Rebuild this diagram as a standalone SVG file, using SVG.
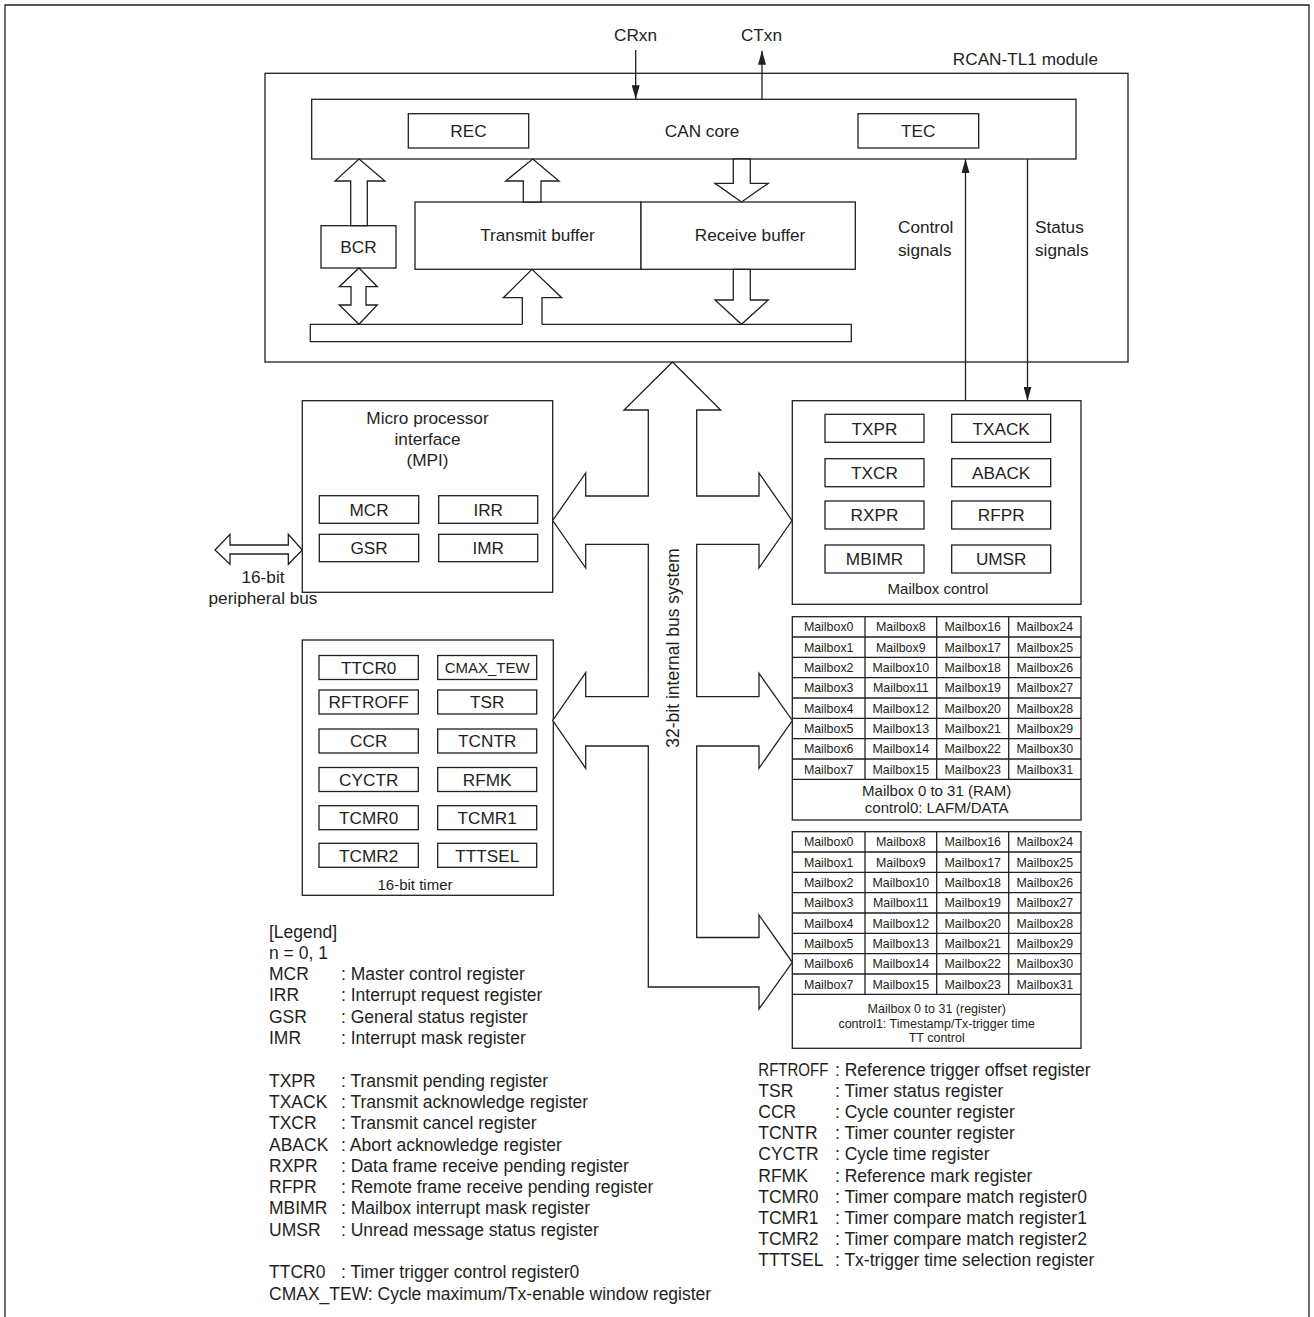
<svg xmlns="http://www.w3.org/2000/svg" width="1314" height="1317" viewBox="0 0 1314 1317">
<style>
.b{fill:#fff;stroke:#231f20;stroke-width:1.3}
.l{fill:none;stroke:#231f20;stroke-width:1.3}
.t{font-family:"Liberation Sans",Arial,sans-serif;font-size:17.2px;fill:#231f20}
.m{text-anchor:middle}
.s{font-size:15px}
.c{font-size:12.4px}
.f{font-size:12.5px}
.g{font-size:17.5px}
</style>
<defs>
<marker id="ah" markerUnits="userSpaceOnUse" markerWidth="14" markerHeight="8" viewBox="0 0 14 8" refX="14" refY="4" orient="auto">
<path d="M0,0 L14,4 L0,8 Z" fill="#231f20"/>
</marker>
</defs>
<rect width="1314" height="1317" fill="#fff"/>
<path class="l" d="M5,1317 V5 H1309 V1317"/>

<g id="module">
<rect class="b" x="265" y="73.3" width="863" height="288.7"/>
<text class="t" x="1098" y="65" text-anchor="end">RCAN-TL1 module</text>
</g>

<g id="can-core">
<rect class="b" x="311.7" y="99.3" width="764.3" height="59.7"/>
<text class="t m" x="702" y="137">CAN core</text>
<rect class="b" x="408.3" y="113.7" width="120.4" height="34.3"/>
<text class="t m" x="468.5" y="137">REC</text>
<rect class="b" x="858" y="113.7" width="120.7" height="34.3"/>
<text class="t m" x="918.3" y="137">TEC</text>
</g>

<g id="bcr">
<rect class="b" x="321" y="225.7" width="75" height="42.3"/>
<text class="t m" x="358.5" y="253">BCR</text>
</g>

<g id="transmit-buffer">
<rect class="b" x="415" y="202" width="226" height="67.3"/>
<text class="t m" x="537.5" y="241">Transmit buffer</text>
</g>

<g id="receive-buffer">
<rect class="b" x="641" y="202" width="214.3" height="67.3"/>
<text class="t m" x="750" y="241">Receive buffer</text>
</g>

<g id="internal-bus">
<path class="b" d="M522.3,324.3 H310.3 V341.7 H851.3 V324.3 H542"/>
</g>

<g id="mpi">
<rect class="b" x="302.3" y="400.7" width="250.4" height="191.6"/>
<text class="t m" x="427.5" y="423.5">Micro processor</text>
<text class="t m" x="427.5" y="444.5">interface</text>
<text class="t m" x="427.5" y="465.5">(MPI)</text>
<rect class="b" x="319.3" y="495.7" width="99.4" height="27.6"/>
<text class="t m" x="369" y="515.7">MCR</text>
<rect class="b" x="438.7" y="495.7" width="99" height="27.6"/>
<text class="t m" x="488.2" y="515.7">IRR</text>
<rect class="b" x="319.3" y="534.3" width="99.4" height="27.4"/>
<text class="t m" x="369" y="554.2">GSR</text>
<rect class="b" x="438.7" y="534.3" width="99" height="27.4"/>
<text class="t m" x="488.2" y="554.2">IMR</text>
</g>

<g id="peripheral-bus">
<polygon class="b" points="215,550 230,534.3 230,545 288.3,545 288.3,534.3 302.3,550 288.3,564.3 288.3,554 230,554 230,564.3"/>
<text class="t m" x="263" y="582.5">16-bit</text>
<text class="t m" x="263" y="604">peripheral bus</text>
</g>

<g id="mailbox-control">
<rect class="b" x="792.3" y="400.7" width="288.7" height="203.6"/>
<rect class="b" x="825" y="414.3" width="99" height="28"/>
<text class="t m" x="874.5" y="434.5">TXPR</text>
<rect class="b" x="951.7" y="414.3" width="99" height="28"/>
<text class="t m" x="1001.2" y="434.5">TXACK</text>
<rect class="b" x="825" y="458.7" width="99" height="28"/>
<text class="t m" x="874.5" y="478.9">TXCR</text>
<rect class="b" x="951.7" y="458.7" width="99" height="28"/>
<text class="t m" x="1001.2" y="478.9">ABACK</text>
<rect class="b" x="825" y="501" width="99" height="28"/>
<text class="t m" x="874.5" y="521.2">RXPR</text>
<rect class="b" x="951.7" y="501" width="99" height="28"/>
<text class="t m" x="1001.2" y="521.2">RFPR</text>
<rect class="b" x="825" y="545" width="99" height="28"/>
<text class="t m" x="874.5" y="565.2">MBIMR</text>
<rect class="b" x="951.7" y="545" width="99" height="28"/>
<text class="t m" x="1001.2" y="565.2">UMSR</text>
<text class="t m s" x="938" y="594">Mailbox control</text>
</g>

<g id="mailbox-ram">
<rect class="b" x="792.3" y="616.7" width="288.7" height="203.3"/>
<path class="l" d="M792.3,637 H1081 M792.3,657.4 H1081 M792.3,677.7 H1081 M792.3,698 H1081 M792.3,718.4 H1081 M792.3,738.7 H1081 M792.3,759 H1081 M792.3,779.3 H1081 M865,616.7 V779.3 M936.7,616.7 V779.3 M1008.7,616.7 V779.3"/>
<g class="t m c">
<text x="828.7" y="631.2">Mailbox0</text><text x="900.8" y="631.2">Mailbox8</text><text x="972.7" y="631.2">Mailbox16</text><text x="1044.8" y="631.2">Mailbox24</text>
<text x="828.7" y="651.5">Mailbox1</text><text x="900.8" y="651.5">Mailbox9</text><text x="972.7" y="651.5">Mailbox17</text><text x="1044.8" y="651.5">Mailbox25</text>
<text x="828.7" y="671.9">Mailbox2</text><text x="900.8" y="671.9">Mailbox10</text><text x="972.7" y="671.9">Mailbox18</text><text x="1044.8" y="671.9">Mailbox26</text>
<text x="828.7" y="692.2">Mailbox3</text><text x="900.8" y="692.2">Mailbox11</text><text x="972.7" y="692.2">Mailbox19</text><text x="1044.8" y="692.2">Mailbox27</text>
<text x="828.7" y="712.5">Mailbox4</text><text x="900.8" y="712.5">Mailbox12</text><text x="972.7" y="712.5">Mailbox20</text><text x="1044.8" y="712.5">Mailbox28</text>
<text x="828.7" y="732.9">Mailbox5</text><text x="900.8" y="732.9">Mailbox13</text><text x="972.7" y="732.9">Mailbox21</text><text x="1044.8" y="732.9">Mailbox29</text>
<text x="828.7" y="753.2">Mailbox6</text><text x="900.8" y="753.2">Mailbox14</text><text x="972.7" y="753.2">Mailbox22</text><text x="1044.8" y="753.2">Mailbox30</text>
<text x="828.7" y="773.5">Mailbox7</text><text x="900.8" y="773.5">Mailbox15</text><text x="972.7" y="773.5">Mailbox23</text><text x="1044.8" y="773.5">Mailbox31</text>
</g>
<text class="t m s" x="936.7" y="795.5">Mailbox 0 to 31 (RAM)</text>
<text class="t m s" x="936.7" y="813">control0: LAFM/DATA</text>
</g>

<g id="mailbox-register">
<rect class="b" x="792.3" y="831.7" width="288.7" height="216.6"/>
<path class="l" d="M792.3,852 H1081 M792.3,872.4 H1081 M792.3,892.7 H1081 M792.3,913 H1081 M792.3,933.4 H1081 M792.3,953.7 H1081 M792.3,974 H1081 M792.3,994.3 H1081 M865,831.7 V994.3 M936.7,831.7 V994.3 M1008.7,831.7 V994.3"/>
<g class="t m c">
<text x="828.7" y="846.2">Mailbox0</text><text x="900.8" y="846.2">Mailbox8</text><text x="972.7" y="846.2">Mailbox16</text><text x="1044.8" y="846.2">Mailbox24</text>
<text x="828.7" y="866.5">Mailbox1</text><text x="900.8" y="866.5">Mailbox9</text><text x="972.7" y="866.5">Mailbox17</text><text x="1044.8" y="866.5">Mailbox25</text>
<text x="828.7" y="886.9">Mailbox2</text><text x="900.8" y="886.9">Mailbox10</text><text x="972.7" y="886.9">Mailbox18</text><text x="1044.8" y="886.9">Mailbox26</text>
<text x="828.7" y="907.2">Mailbox3</text><text x="900.8" y="907.2">Mailbox11</text><text x="972.7" y="907.2">Mailbox19</text><text x="1044.8" y="907.2">Mailbox27</text>
<text x="828.7" y="927.5">Mailbox4</text><text x="900.8" y="927.5">Mailbox12</text><text x="972.7" y="927.5">Mailbox20</text><text x="1044.8" y="927.5">Mailbox28</text>
<text x="828.7" y="947.9">Mailbox5</text><text x="900.8" y="947.9">Mailbox13</text><text x="972.7" y="947.9">Mailbox21</text><text x="1044.8" y="947.9">Mailbox29</text>
<text x="828.7" y="968.2">Mailbox6</text><text x="900.8" y="968.2">Mailbox14</text><text x="972.7" y="968.2">Mailbox22</text><text x="1044.8" y="968.2">Mailbox30</text>
<text x="828.7" y="988.5">Mailbox7</text><text x="900.8" y="988.5">Mailbox15</text><text x="972.7" y="988.5">Mailbox23</text><text x="1044.8" y="988.5">Mailbox31</text>
</g>
<text class="t m f" x="936.7" y="1013">Mailbox 0 to 31 (register)</text>
<text class="t m f" x="936.7" y="1027.5">control1: Timestamp/Tx-trigger time</text>
<text class="t m f" x="936.7" y="1042">TT control</text>
</g>

<g id="timer">
<rect class="b" x="302.3" y="640" width="251" height="255.3"/>
<rect class="b" x="319" y="655.5" width="99.3" height="24"/>
<text class="t m" x="368.7" y="673.7">TTCR0</text>
<rect class="b" x="437.7" y="655.5" width="99" height="24"/>
<text class="t m s" x="487.2" y="673">CMAX_TEW</text>
<rect class="b" x="319" y="690" width="99.3" height="24"/>
<text class="t m" x="368.7" y="708.2">RFTROFF</text>
<rect class="b" x="437.7" y="690" width="99" height="24"/>
<text class="t m" x="487.2" y="708.2">TSR</text>
<rect class="b" x="319" y="729" width="99.3" height="24"/>
<text class="t m" x="368.7" y="747.2">CCR</text>
<rect class="b" x="437.7" y="729" width="99" height="24"/>
<text class="t m" x="487.2" y="747.2">TCNTR</text>
<rect class="b" x="319" y="767.5" width="99.3" height="24"/>
<text class="t m" x="368.7" y="785.7">CYCTR</text>
<rect class="b" x="437.7" y="767.5" width="99" height="24"/>
<text class="t m" x="487.2" y="785.7">RFMK</text>
<rect class="b" x="319" y="805.7" width="99.3" height="24"/>
<text class="t m" x="368.7" y="824">TCMR0</text>
<rect class="b" x="437.7" y="805.7" width="99" height="24"/>
<text class="t m" x="487.2" y="824">TCMR1</text>
<rect class="b" x="319" y="843.3" width="99.3" height="24"/>
<text class="t m" x="368.7" y="861.5">TCMR2</text>
<rect class="b" x="437.7" y="843.3" width="99" height="24"/>
<text class="t m" x="487.2" y="861.5">TTTSEL</text>
<text class="t m s" x="415" y="890">16-bit timer</text>
</g>

<g id="connectors">
<line class="l" x1="635.7" y1="50" x2="635.7" y2="99.3" marker-end="url(#ah)"/>
<line class="l" x1="762" y1="99.3" x2="762" y2="50.7" marker-end="url(#ah)"/>
<line class="l" x1="965.5" y1="400.7" x2="965.5" y2="159" marker-end="url(#ah)"/>
<line class="l" x1="1027.5" y1="159" x2="1027.5" y2="400.7" marker-end="url(#ah)"/>
<polygon class="b" points="359,159 385,181 367.3,181 367.3,225.7 350.7,225.7 350.7,181 335,181"/>
<polygon class="b" points="359,268 377.3,286.7 366,286.7 366,305 377.3,305 359,324.3 339.3,305 351,305 351,286.7 339.3,286.7"/>
<polygon class="b" points="532.7,159 559,181 541,181 541,202 523.3,202 523.3,181 505.7,181"/>
<polygon class="b" points="733.3,159 750.3,159 750.3,183.3 768.3,183.3 741.5,202 715,183.3 733.3,183.3"/>
<path class="b" d="M522.3,324.3 V297.7 H503.3 L532,269.3 L561.7,297.7 H542 V324.3"/>
<polygon class="b" points="733.3,269.3 750.3,269.3 750.3,300 768.3,300 741.5,324.3 715,300 733.3,300"/>
<polygon class="b" points="672.5,362 720.7,410 696.7,410 696.7,496 759,496 759,473 792,520.5 759,568 759,544.3 696.7,544.3 696.7,696.7 759,696.7 759,673.3 792.3,720.5 759,768.3 759,746 696.7,746 696.7,937.5 759,937.5 759,915 792.3,962.3 759,1009 759,987 648.3,987 648.3,746 585.7,746 585.7,768.3 552.7,720.5 585.7,672.7 585.7,696.7 648.3,696.7 648.3,544.3 585.7,544.3 585.7,568 552.7,520.5 585.7,473 585.7,496 648.3,496 648.3,410 624,410"/>
<text class="t m g" transform="rotate(-90)" x="-648" y="679">32-bit internal bus system</text>
</g>

<g id="labels">
<text class="t m" x="635.5" y="41">CRxn</text>
<text class="t m" x="761.5" y="41">CTxn</text>
<text class="t" x="898" y="233.3">Control</text>
<text class="t" x="898" y="255.7">signals</text>
<text class="t" x="1035" y="233.3">Status</text>
<text class="t" x="1035" y="255.7">signals</text>
</g>

<g id="legend-left" class="t g">
<text x="269" y="937.5">[Legend]</text>
<text x="269" y="958.8">n = 0, 1</text>
<text x="269" y="980.1">MCR</text><text x="341" y="980.1">: Master control register</text>
<text x="269" y="1001.4">IRR</text><text x="341" y="1001.4">: Interrupt request register</text>
<text x="269" y="1022.7">GSR</text><text x="341" y="1022.7">: General status register</text>
<text x="269" y="1044">IMR</text><text x="341" y="1044">: Interrupt mask register</text>
<text x="269" y="1086.6">TXPR</text><text x="341" y="1086.6">: Transmit pending register</text>
<text x="269" y="1107.9">TXACK</text><text x="341" y="1107.9">: Transmit acknowledge register</text>
<text x="269" y="1129.2">TXCR</text><text x="341" y="1129.2">: Transmit cancel register</text>
<text x="269" y="1150.5">ABACK</text><text x="341" y="1150.5">: Abort acknowledge register</text>
<text x="269" y="1171.8">RXPR</text><text x="341" y="1171.8">: Data frame receive pending register</text>
<text x="269" y="1193.1">RFPR</text><text x="341" y="1193.1">: Remote frame receive pending register</text>
<text x="269" y="1214.4">MBIMR</text><text x="341" y="1214.4">: Mailbox interrupt mask register</text>
<text x="269" y="1235.7">UMSR</text><text x="341" y="1235.7">: Unread message status register</text>
<text x="269" y="1278.3">TTCR0</text><text x="341" y="1278.3">: Timer trigger control register0</text>
<text x="269" y="1299.6">CMAX_TEW: Cycle maximum/Tx-enable window register</text>
</g>

<g id="legend-right" class="t g">
<text x="758.3" y="1075.5" textLength="70" lengthAdjust="spacingAndGlyphs">RFTROFF</text><text x="835" y="1075.5">: Reference trigger offset register</text>
<text x="758.3" y="1096.7">TSR</text><text x="835" y="1096.7">: Timer status register</text>
<text x="758.3" y="1117.9">CCR</text><text x="835" y="1117.9">: Cycle counter register</text>
<text x="758.3" y="1139.1">TCNTR</text><text x="835" y="1139.1">: Timer counter register</text>
<text x="758.3" y="1160.3">CYCTR</text><text x="835" y="1160.3">: Cycle time register</text>
<text x="758.3" y="1181.5">RFMK</text><text x="835" y="1181.5">: Reference mark register</text>
<text x="758.3" y="1202.7">TCMR0</text><text x="835" y="1202.7">: Timer compare match register0</text>
<text x="758.3" y="1223.9">TCMR1</text><text x="835" y="1223.9">: Timer compare match register1</text>
<text x="758.3" y="1245.1">TCMR2</text><text x="835" y="1245.1">: Timer compare match register2</text>
<text x="758.3" y="1266.3">TTTSEL</text><text x="835" y="1266.3">: Tx-trigger time selection register</text>
</g>
</svg>
